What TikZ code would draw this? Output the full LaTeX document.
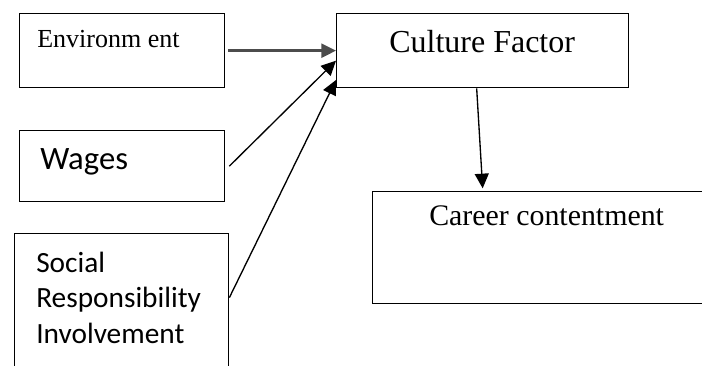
\documentclass[tikz,border=0pt]{standalone}
\usepackage{fontspec}
\setmainfont{Liberation Serif}
\newfontfamily\calibri{Carlito}
\usetikzlibrary{arrows.meta}
\tikzset{box/.style = {draw, line width=1pt, anchor=north west, inner sep=0}}
\tikzset{arr/.style = {-{Triangle[length=11pt, width=10.5pt]}, line width=1pt}}
\tikzset{lbl/.style = {anchor=base west, inner sep=0, align=left}}

\begin{document}
\begin{tikzpicture}[x=0.75pt, y=-0.75pt]
  \useasboundingbox (0,0) rectangle (702,366);
  \clip (0,0) rectangle (702,366);

  % boxes
  \node [box, minimum width=205*0.75pt, minimum height=74*0.75pt] (env) at (19,13) {};
  \node [box, minimum width=205*0.75pt, minimum height=71*0.75pt] (wag) at (19,130) {};
  \node [box, minimum width=214*0.75pt, minimum height=160*0.75pt] (soc) at (14,233) {};
  \node [box, minimum width=292*0.75pt, minimum height=74*0.75pt] (cul) at (336,13) {};
  \node [box, minimum width=360*0.75pt, minimum height=112*0.75pt] (car) at (372,191) {};

  % labels (base of a multi-line node is its last line)
  \node [lbl, font=\fontsize{19.5}{23}\selectfont] at (37,48) {Environm ent};
  \node [lbl, font=\calibri\fontsize{24.5}{29}\selectfont] at (40,170) {Wages};
  \node [lbl, font=\calibri\fontsize{22}{26.5}\selectfont] at (36,343)
        {Social\\Responsibility\\Involvement};
  \node [lbl, font=\fontsize{24}{29}\selectfont] at (389,53) {Culture Factor};
  \node [lbl, font=\fontsize{22.4}{27}\selectfont] at (429,226) {Career contentment};

  % arrows
  \draw [arr, line width=1.8pt, black!70] ([xshift=2pt]env.east) -- (cul.west);
  \draw [arr] ([xshift=3pt]wag.east) -- ([yshift=-7.5pt]cul.west);
  \draw [arr] ([yshift=12pt]soc.east) -- ([yshift=-22pt]cul.west);
  \draw [arr] ([xshift=-4.5pt]cul.south) -- ([yshift=2pt]cul.south |- car.north);
\end{tikzpicture}
\end{document}
